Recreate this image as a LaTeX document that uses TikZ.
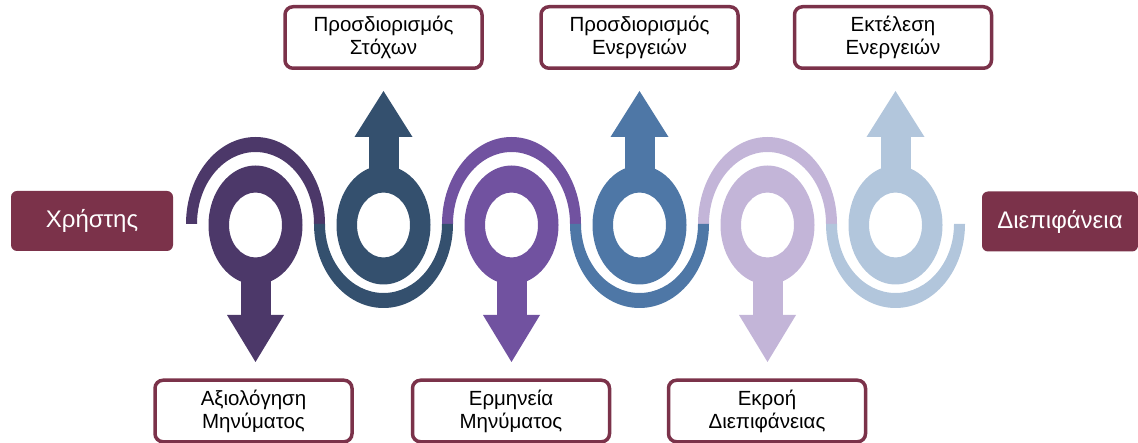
\documentclass[tikz,border=0pt]{standalone}
\usepackage{fontspec}
\setmainfont{Liberation Sans}
\definecolor{cA}{HTML}{4C3869}
\definecolor{cB}{HTML}{34506E}
\definecolor{cC}{HTML}{7152A0}
\definecolor{cD}{HTML}{4E77A6}
\definecolor{cE}{HTML}{C3B5D8}
\definecolor{cF}{HTML}{B2C6DC}
\definecolor{boxc}{HTML}{7B324A}
\begin{document}
\begin{tikzpicture}[x=1pt,y=1pt,
  labelbox/.style={draw=boxc, line width=3.5pt, rounded corners=8pt, fill=white,
    minimum width=197pt, minimum height=61.5pt, align=center, inner sep=0pt,
    font=\fontsize{20.5}{23}\selectfont},
  sidebox/.style={fill=boxc, rounded corners=6pt, text=white, inner sep=0pt,
    minimum height=60pt, font=\fontsize{24}{26}\selectfont}]
\useasboundingbox (0,0) rectangle (1138,-443);
% rings with down arrows and upper arcs
\foreach \cx/\col in {255.5/cA, 511.5/cC, 767.5/cE}{
  \fill[\col] (\cx-69.5,-224) arc[start angle=180,end angle=0,x radius=69.5,y radius=87]
     -- (\cx+58.5,-224) arc[start angle=0,end angle=180,x radius=58.5,y radius=72] -- cycle;
  \fill[\col,even odd rule] (\cx,-225) ellipse[x radius=47,y radius=59.5]
     (\cx,-225) ellipse[x radius=26.5,y radius=32.5];
  \fill[\col] (\cx-15,-270) rectangle (\cx+15,-315.5);
  \fill[\col] (\cx-28.5,-315) -- (\cx+28.5,-315) -- (\cx,-362) -- cycle;
}
% rings with up arrows and lower arcs
\foreach \cx/\col in {383.5/cB, 639.5/cD, 895.5/cF}{
  \fill[\col] (\cx-69.5,-224) arc[start angle=180,end angle=360,x radius=69.5,y radius=84]
     -- (\cx+58.5,-224) arc[start angle=360,end angle=180,x radius=58.5,y radius=69] -- cycle;
  \fill[\col,even odd rule] (\cx,-225) ellipse[x radius=47,y radius=59.5]
     (\cx,-225) ellipse[x radius=26.5,y radius=32.5];
  \fill[\col] (\cx-15,-180) rectangle (\cx+15,-136.5);
  \fill[\col] (\cx-29,-137) -- (\cx+29,-137) -- (\cx,-91) -- cycle;
}
% boxes
\node[labelbox] (t1) at (383.5,-37.5) {Προσδιορισμός\\Στόχων};
\node[labelbox] (t2) at (639.5,-37.5) {Προσδιορισμός\\Ενεργειών};
\node[labelbox] (t3) at (893,-37.5) {Εκτέλεση\\Ενεργειών};
\node[labelbox] (b1) at (253.5,-411) {Αξιολόγηση\\Μηνύματος};
\node[labelbox] (b2) at (511,-411) {Ερμηνεία\\Μηνύματος};
\node[labelbox] (b3) at (767,-411) {Εκροή\\Διεπιφάνειας};
\node[sidebox, minimum width=162pt] (user) at (92,-221) {Χρήστης};
\node[sidebox, minimum width=156pt] (iface) at (1060,-221.5) {Διεπιφάνεια};
\end{tikzpicture}
\end{document}
